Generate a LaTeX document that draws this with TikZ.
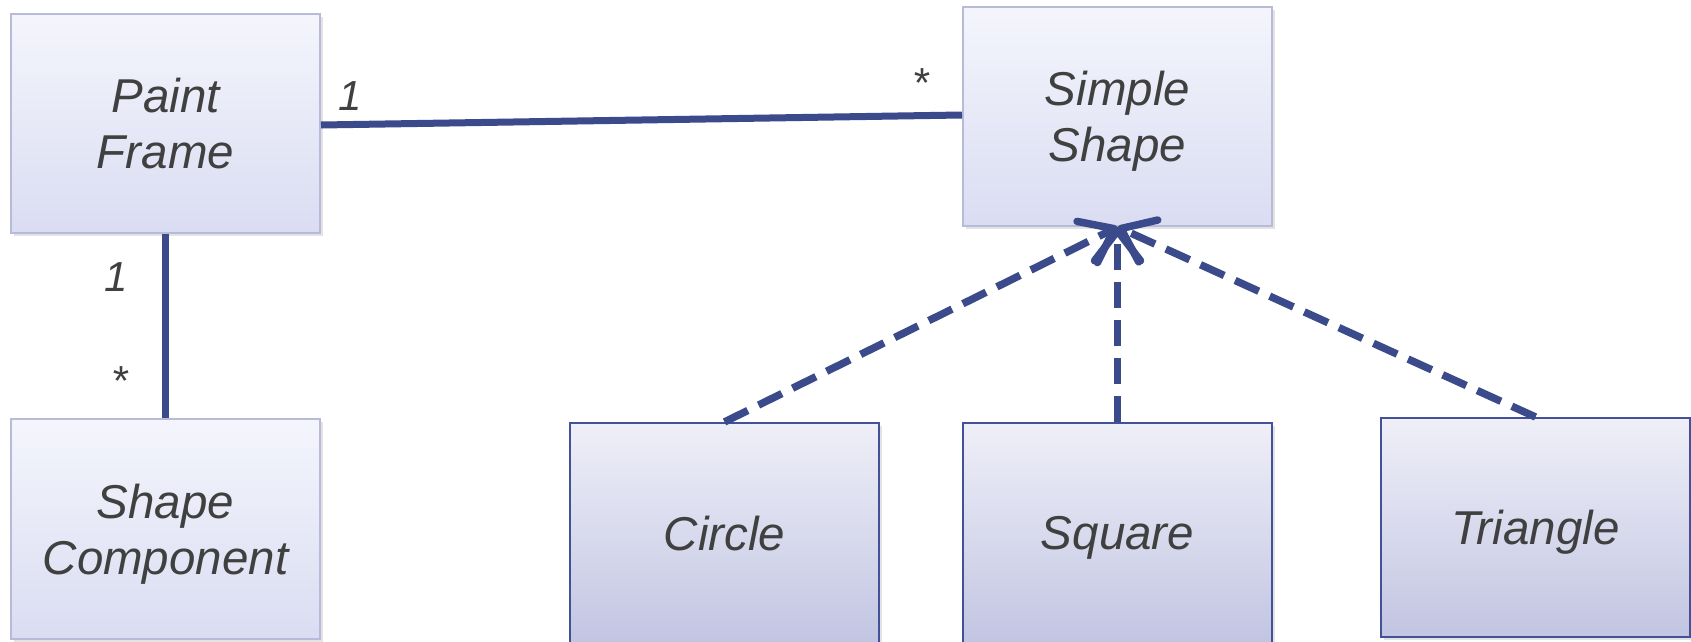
\documentclass[tikz,border=0pt]{standalone}
\usepackage{fontspec}
\setmainfont{Liberation Sans}
\usetikzlibrary{arrows.meta,shadows}
\definecolor{lineblue}{HTML}{3B4A8A}
\definecolor{textgray}{HTML}{404040}
\definecolor{lightedge}{HTML}{B7BBD9}
\definecolor{lighttop}{HTML}{F4F5FC}
\definecolor{lightbot}{HTML}{DADDF2}
\definecolor{darkedge}{HTML}{42519A}
\definecolor{darktop}{HTML}{EFEFF8}
\definecolor{darkbot}{HTML}{C2C5E2}
\tikzset{
  basebox/.style={minimum width=309pt, minimum height=219pt, inner sep=0pt, align=center,
    text=textgray, font=\fontsize{47.5}{56}\selectfont\itshape, text depth=0pt,
    drop shadow={shadow xshift=2.5pt, shadow yshift=-3pt, opacity=0.22}},
  lightbox/.style={basebox, draw=lightedge, line width=2pt, top color=lighttop, bottom color=lightbot},
  darkbox/.style={basebox, draw=darkedge, line width=2pt, top color=darktop, bottom color=darkbot},
  assoc/.style={draw=lineblue, line width=7pt},
  realize/.style={draw=lineblue, line width=7.5pt, dash pattern=on 26pt off 12pt,
    -{Straight Barb[length=30pt, width=46pt, round]}},
  lbl/.style={text=textgray, inner sep=0pt, font=\fontsize{42}{48}\selectfont\itshape, anchor=base}
}
\begin{document}
\begin{tikzpicture}[x=1pt,y=-1pt]
\useasboundingbox (0,0) rectangle (1691,642);
\node[lightbox] (pf) at (165.5,123.5) {Paint\\Frame};
\node[lightbox, minimum height=220pt] (sc) at (165.5,529) {Shape\\Component};
\node[lightbox] (ss) at (1117.5,116.5) {Simple\\Shape};
\node[darkbox, minimum height=220pt] (ci) at (724.5,533) {Circle};
\node[darkbox, minimum height=220pt] (sq) at (1117.5,533) {Square};
\node[darkbox] (tr) at (1535.5,527.5) {Triangle};
\draw[assoc] ([yshift=-1.5pt]pf.east) -- ([yshift=1.5pt]ss.west);
\draw[assoc] (pf.south) -- (sc.north);
\draw[realize] (ci.north) -- (ss.south);
\draw[realize] (sq.north) -- (ss.south);
\draw[realize] (tr.north) -- (ss.south);
\node[lbl] (m1) at (350,110) {1};
\node[lbl] (m2) at (921,97) {*};
\node[lbl] (m3) at (116,291) {1};
\node[lbl] (m4) at (120,395) {*};
\end{tikzpicture}
\end{document}
